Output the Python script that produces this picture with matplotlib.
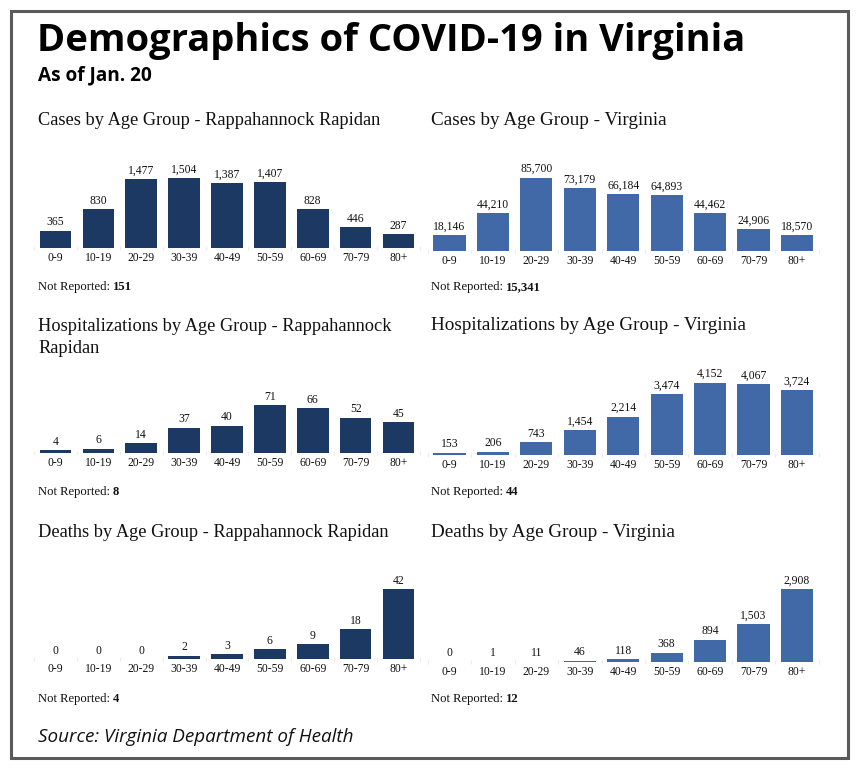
import matplotlib
matplotlib.use('Agg')
import matplotlib.pyplot as plt
from matplotlib.patches import Rectangle
from matplotlib.text import Annotation

# ---------------- data ----------------
age_groups = ['0-9', '10-19', '20-29', '30-39', '40-49', '50-59', '60-69', '70-79', '80+']
cases_rr = [365, 830, 1477, 1504, 1387, 1407, 828, 446, 287]
cases_va = [18146, 44210, 85700, 73179, 66184, 64893, 44462, 24906, 18570]
hosp_rr = [4, 6, 14, 37, 40, 71, 66, 52, 45]
hosp_va = [153, 206, 743, 1454, 2214, 3474, 4152, 4067, 3724]
deaths_rr = [0, 0, 0, 2, 3, 6, 9, 18, 42]
deaths_va = [0, 1, 11, 46, 118, 368, 894, 1503, 2908]
not_reported_rr = [151, 8, 4]
not_reported_va = [15341, 44, 12]
titles_rr = [['Cases by Age Group - Rappahannock Rapidan'],
             ['Hospitalizations by Age Group - Rappahannock', 'Rapidan'],
             ['Deaths by Age Group - Rappahannock Rapidan']]
titles_va = [['Cases by Age Group - Virginia'],
             ['Hospitalizations by Age Group - Virginia'],
             ['Deaths by Age Group - Virginia']]
main_title = 'Demographics of COVID-19 in Virginia'
subtitle = 'As of Jan. 20'
source = 'Source: Virginia Department of Health'

# ---------------- style ----------------
W, H = 864, 774
NAVY = '#1b3963'
BLUE = '#4169a7'
SERIF = 'Liberation Serif'
SANS = 'Open Sans'
TXT = '#111111'

fig = plt.figure(figsize=(W / 100, H / 100), dpi=100)
fig.patch.set_facecolor('white')
renderer = fig.canvas.get_renderer()


def fx(x):
    return x / W


def fy(y):
    return 1 - y / H


def fit_text(x, y, s, target_w, **kw):
    t = fig.text(fx(x), fy(y), s, va='baseline', ha='left', fontsize=20, **kw)
    w = t.get_window_extent(renderer).width
    t.set_fontsize(20 * target_w / w)
    return t


# border
fig.add_artist(Rectangle((fx(11), fy(758)), (848 - 11) / W, (758 - 11) / H,
                         transform=fig.transFigure, fill=False,
                         ec='#5a5a5a', lw=2.2))

fit_text(37, 51, main_title, 708, family=SANS, weight='bold', color='black')
fit_text(38, 80, subtitle, 114, family=SANS, weight='bold', color='black')
fit_text(38, 742, source, 315, family=SANS, style='italic', color=TXT)

# font sizes fitted to reference text widths
tt = fit_text(38, 125, titles_rr[0][0], 341, family=SERIF, color=TXT)
title_fs = tt.get_fontsize()
tt.remove()
tt = fit_text(431, 125, titles_va[1][0], 315, family=SERIF, color=TXT)
title_fs_r = tt.get_fontsize()
tt.remove()
tn = fit_text(38, 290, 'Not Reported:', 72, family=SERIF, color=TXT)
nr_fs = tn.get_fontsize()
tn.remove()

LAB_FS = 8.4
LINE_GAP = 22

# column geometry (pixel centers of first & last bar, text left, title size)
cols = {
    'L': (55.5, 398.5, 38, title_fs),
    'R': (449.5, 797.0, 431, title_fs_r),
}
rows = [
    dict(base={'L': 247.7, 'R': 250.7}, hmax={'L': 69.7, 'R': 73.0},
         tbase={'L': 125, 'R': 125}, nr=290),
    dict(base={'L': 452.7, 'R': 455.3}, hmax={'L': 47.7, 'R': 72.7},
         tbase={'L': 330.7, 'R': 330.5}, nr=495),
    dict(base={'L': 659.3, 'R': 662.0}, hmax={'L': 70.0, 'R': 72.7},
         tbase={'L': 536.7, 'R': 536.7}, nr=702),
]
series = [(cases_rr, cases_va), (hosp_rr, hosp_va), (deaths_rr, deaths_va)]

AX_H = 100.0
for i, row in enumerate(rows):
    for side in ('L', 'R'):
        vals = series[i][0] if side == 'L' else series[i][1]
        color = NAVY if side == 'L' else BLUE
        title_lines = titles_rr[i] if side == 'L' else titles_va[i]
        nrv = not_reported_rr[i] if side == 'L' else not_reported_va[i]
        c0, c8, tx, tfs = cols[side]
        sp = (c8 - c0) / 8
        left = c0 - sp / 2
        base = row['base'][side]
        ax = fig.add_axes([fx(left), fy(base), 9 * sp / W, AX_H / H])
        ymax = max(vals) * AX_H / row['hmax'][side]
        x = list(range(len(age_groups)))
        bars = ax.bar(x, vals, width=0.74, color=color, edgecolor='none')
        ax.set_xlim(-0.5, 8.5)
        ax.set_ylim(0, ymax)
        ax.bar_label(bars, labels=[f'{v:,}' for v in vals], padding=1.8,
                     fontsize=LAB_FS, family=SERIF, color=TXT)
        ax.set_xticks(x)
        ax.set_xticklabels(age_groups, family=SERIF, fontsize=LAB_FS, color=TXT)
        ax.tick_params(axis='x', length=0, pad=3)
        ax.set_xticks([k - 0.5 for k in range(10)], minor=True)
        ax.tick_params(axis='x', which='minor', length=3, color='#ececec',
                       width=0.8, direction='inout')
        ax.set_yticks([])
        for s in ax.spines.values():
            s.set_visible(False)
        ax.patch.set_alpha(0)

        # panel title (one text per line)
        for k, line in enumerate(title_lines):
            fig.text(fx(tx), fy(row['tbase'][side] + k * LINE_GAP), line,
                     va='baseline', ha='left', family=SERIF,
                     fontsize=tfs, color=TXT)
        # not reported
        t1 = fig.text(fx(tx), fy(row['nr']), 'Not Reported:', va='baseline',
                      ha='left', family=SERIF, fontsize=nr_fs, color=TXT)
        fig.add_artist(Annotation(
            f'{nrv:,}', xy=(1, 0), xycoords=t1, xytext=(2.2, 0),
            textcoords='offset points', va='bottom', ha='left',
            family=SERIF, fontsize=nr_fs, weight='bold', color=TXT))

fig.savefig('out.png', dpi=100, facecolor='white')
